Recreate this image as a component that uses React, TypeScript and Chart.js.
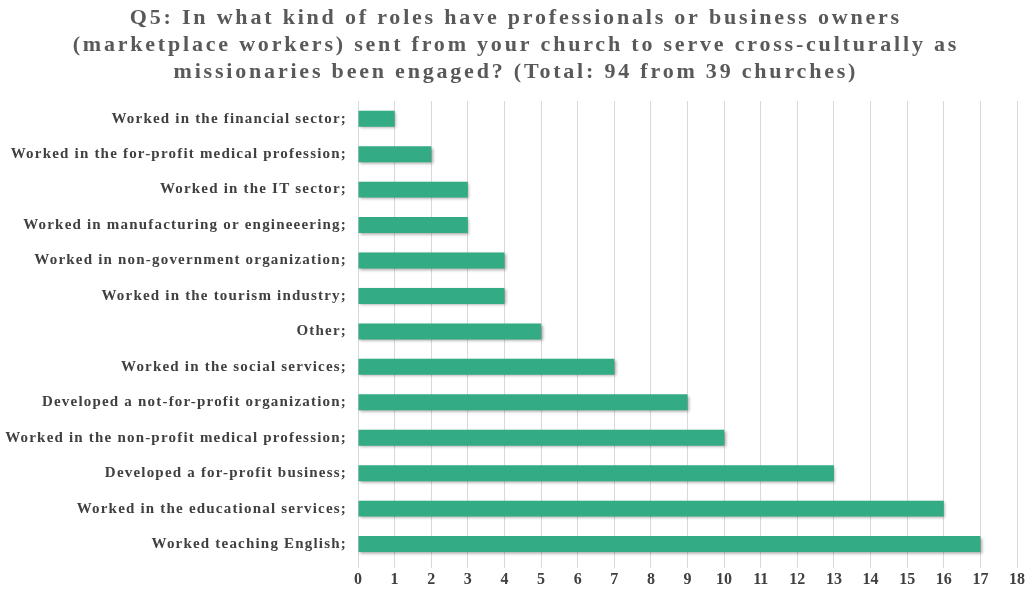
import React, { useEffect, useRef } from "react";
import { Chart, registerables } from "chart.js";

Chart.register(...registerables);

const categories = [
  "Worked in the financial sector;",
  "Worked in the for-profit medical profession;",
  "Worked in the IT sector;",
  "Worked in manufacturing or engineeering;",
  "Worked in non-government organization;",
  "Worked in the tourism industry;",
  "Other;",
  "Worked in the social services;",
  "Developed a not-for-profit organization;",
  "Worked in the non-profit medical profession;",
  "Developed a for-profit business;",
  "Worked in the educational services;",
  "Worked teaching English;",
];
const values = [1, 2, 3, 3, 4, 4, 5, 7, 9, 10, 13, 16, 17];
const titleLines = [
  "Q5: In what kind of roles have professionals or business owners",
  "(marketplace workers) sent from your church to serve cross-culturally as",
  "missionaries been engaged? (Total: 94 from 39 churches)",
];
const xMax = 18;

const titlePlugin = {
  id: "spacedTitle",
  afterDraw(chart: any) {
    const ctx = chart.ctx;
    ctx.save();
    ctx.font = 'bold 22px "Liberation Serif"';
    ctx.letterSpacing = "2.8px";
    ctx.fillStyle = "#595959";
    ctx.textAlign = "center";
    ctx.textBaseline = "middle";
    const cx = chart.width / 2 + 1.4;
    titleLines.forEach((line, i) => {
      ctx.fillText(line, cx, 18 + i * 27);
    });
    ctx.restore();
  },
};

const yLabelPlugin = {
  id: "spacedYLabels",
  afterDraw(chart: any) {
    const ctx = chart.ctx;
    const scale = chart.scales.y;
    const labels = chart.data.labels as string[];
    ctx.save();
    ctx.font = 'bold 15px "Liberation Serif"';
    ctx.letterSpacing = "1.2px";
    ctx.fillStyle = "#404040";
    ctx.textAlign = "right";
    ctx.textBaseline = "middle";
    const x = chart.chartArea.left - 11;
    labels.forEach((label, i) => {
      ctx.fillText(label, x, scale.getPixelForTick(i));
    });
    ctx.restore();
  },
};

const shadowPlugin = {
  id: "barShadow",
  beforeDatasetsDraw(chart: any) {
    const ctx = chart.ctx;
    ctx.save();
    ctx.shadowColor = "rgba(0,0,0,0.35)";
    ctx.shadowBlur = 3;
    ctx.shadowOffsetX = 1.5;
    ctx.shadowOffsetY = 1.5;
  },
  afterDatasetsDraw(chart: any) {
    chart.ctx.restore();
  },
};

export default function App() {
  const ref = useRef<HTMLCanvasElement>(null);
  useEffect(() => {
    document.body.style.margin = "0";
    const chart = new Chart(ref.current!, {
      type: "bar",
      data: {
        labels: categories,
        datasets: [
          {
            data: values,
            backgroundColor: "#33ab84",
            barPercentage: 0.45,
            categoryPercentage: 1,
          },
        ],
      },
      plugins: [shadowPlugin, titlePlugin, yLabelPlugin],
      options: {
        indexAxis: "y",
        animation: false,
        responsive: false,
        maintainAspectRatio: false,
        layout: { padding: { top: 101, right: 12, bottom: 1, left: 6 } },
        plugins: {
          legend: { display: false },
          tooltip: { enabled: false },
          title: { display: false },
        },
        scales: {
          x: {
            min: 0,
            max: xMax,
            ticks: {
              stepSize: 1,
              color: "#404040",
              font: { family: "Liberation Serif", size: 16, weight: "bold" },
              padding: 2,
            },
            grid: { color: "#d9d9d9", drawTicks: true, tickLength: 6 },
            border: { display: false },
          },
          y: {
            afterFit(scale: any) {
              scale.width = 352;
            },
            ticks: { display: false },
            grid: { display: false },
            border: { display: true, color: "#d9d9d9" },
          },
        },
      },
    });
    return () => chart.destroy();
  }, []);
  return (
    <div style={{ width: 1029, height: 592 }}>
      <canvas ref={ref} width={1029} height={592} style={{ display: "block" }} />
    </div>
  );
}
